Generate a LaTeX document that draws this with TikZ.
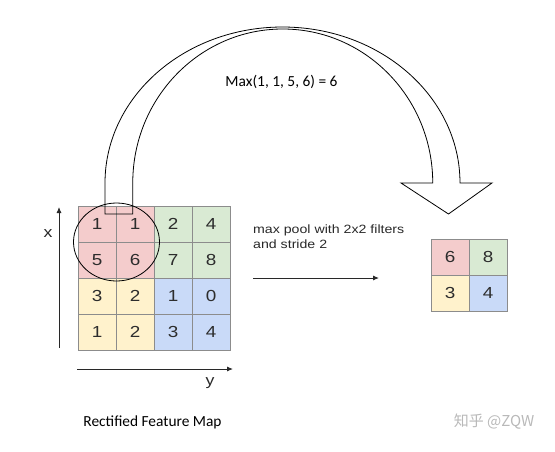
\documentclass[tikz,border=0pt]{standalone}
\usepackage{fontspec}
\setmainfont{Liberation Sans}
\newfontfamily\arialw[FakeStretch=1.18]{Liberation Sans}
\newfontfamily\calib{Carlito}
\newfontfamily\cjkf{Noto Sans CJK SC}
\usetikzlibrary{arrows.meta}
\definecolor{cpink}{RGB}{244,204,204}
\definecolor{cgreen}{RGB}{217,234,211}
\definecolor{cyellow}{RGB}{255,242,204}
\definecolor{cblue}{RGB}{201,218,248}
\definecolor{cellline}{RGB}{140,140,140}
\definecolor{digit}{RGB}{45,45,45}
\definecolor{axis}{RGB}{40,40,40}
\definecolor{wm}{RGB}{185,185,185}
\begin{document}
\begin{tikzpicture}[x=1pt,y=-1pt,
  cell/.style={draw=cellline, line width=0.8pt, minimum width=38pt, minimum height=36pt,
    inner sep=0pt, font=\arialw\fontsize{16}{16}\selectfont, text=digit},
  axisarrow/.style={draw=axis, line width=0.9pt, -{Latex[length=6pt,width=5pt]}},
  outline/.style={draw=black, line width=0.8pt}]
\path[use as bounding box] (0,0) rectangle (555,451);

% big grid
\foreach \r/\c/\v/\col in {1/1/1/cpink,1/2/1/cpink,1/3/2/cgreen,1/4/4/cgreen,
  2/1/5/cpink,2/2/6/cpink,2/3/7/cgreen,2/4/8/cgreen,
  3/1/3/cyellow,3/2/2/cyellow,3/3/1/cblue,3/4/0/cblue,
  4/1/1/cyellow,4/2/2/cyellow,4/3/3/cblue,4/4/4/cblue}
  \node[cell, fill=\col] (g\r\c) at ({59+38*\c},{188+36*\r}) {\v};

% small grid
\foreach \r/\c/\v/\col in {1/1/6/cpink,1/2/8/cgreen,2/1/3/cyellow,2/2/4/cblue}
  \node[cell, fill=\col] (p\r\c) at ({412+38*\c},{221+36*\r}) {\v};

% ellipse around window
\draw[outline] (116.5,242) ellipse [x radius=43pt, y radius=39pt];

% big curved arrow
\draw[outline] (105,214) -- (105,183)
  arc[start angle=180, end angle=0, x radius=177.5pt, y radius=156pt]
  -- (492,183) -- (448.5,214) -- (401,183) -- (432.75,183)
  arc[start angle=0, end angle=180, x radius=150pt, y radius=154pt]
  -- (132.75,214) -- cycle;

\node[font=\calib\fontsize{15.4}{16}\selectfont, anchor=base] (maxt) at (281.5,86.5) {Max(1, 1, 5, 6) = 6};

% axes
\coordinate (xa0) at (59,348);
\coordinate (xa1) at (59,207);
\coordinate (ya0) at (77,369);
\coordinate (ya1) at (233,369);
\draw[axisarrow] (xa0) -- (xa1);
\draw[axisarrow] (ya0) -- (ya1);
\node[font=\arialw\fontsize{15}{15}\selectfont, text=axis, anchor=base] (xl) at (48,237) {x};
\node[font=\arialw\fontsize{15}{15}\selectfont, text=axis, anchor=base] (yl) at (210,385) {y};

% pool arrow
\node[font=\arialw\fontsize{12}{14.5}\selectfont, text=axis, anchor=base west, align=left, inner sep=0pt] (pt) at (253,248) {max pool with 2x2 filters\\and stride 2};
\coordinate (pa0) at (253,278);
\coordinate (pa1) at (379,278);
\draw[axisarrow] (pa0) -- (pa1);

\node[font=\calib\fontsize{15.4}{16}\selectfont, anchor=base] (cap) at (152.5,426) {Rectified Feature Map};
\node[font=\cjkf\fontsize{15}{16}\selectfont, text=wm, anchor=base] (wmk) at (494,426) {知乎 @ZQW};
\end{tikzpicture}
\end{document}
